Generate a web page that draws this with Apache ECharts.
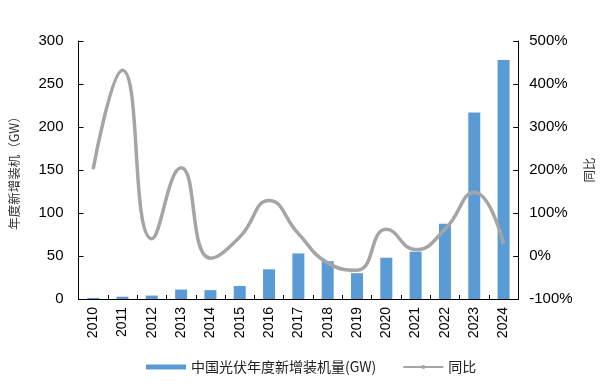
<!DOCTYPE html>
<html>
<head>
<meta charset="utf-8">
<script src="https://cdn.jsdelivr.net/npm/echarts@6/dist/echarts.min.js"></script>
<style>
html,body{margin:0;padding:0;background:#fff;}
#c{width:604px;height:388px;}
</style>
</head>
<body>
<div id="c"></div>
<script>
const categories = ['2010','2011','2012','2013','2014','2015','2016','2017','2018','2019','2020','2021','2022','2023','2024'];
const installed = [1.2, 2.7, 4.0, 11.0, 10.3, 15.1, 34.5, 53.0, 44.0, 30.0, 48.0, 55.0, 87.5, 217.0, 278.0];
const yoy = [202, 432, 40, 205, -5, 44, 129, 52, -16, -33, 62, 15, 62, 148, 28];
const leftTicks = [0, 50, 100, 150, 200, 250, 300];
const rightTicks = [-100, 0, 100, 200, 300, 400, 500];

const font = '"Liberation Sans", Arial, sans-serif';
const cjk = '"Noto Sans CJK SC", sans-serif';

const chart = echarts.init(document.getElementById('c'), null, {renderer: 'canvas'});
chart.setOption({
  animation: false,
  backgroundColor: '#ffffff',
  grid: {left: 76, right: 74, top: 41, bottom: 89, containLabel: false},
  legend: {
    bottom: 9,
    left: 141,
    itemGap: 26,
    itemWidth: 40,
    itemHeight: 5,
    textStyle: {fontFamily: cjk, fontSize: 14, color: '#222'},
    data: [
      {name: '中国光伏年度新增装机量(GW)', icon: 'rect'},
      {name: '同比'}
    ]
  },
  xAxis: {
    type: 'category',
    data: categories,
    axisLine: {lineStyle: {color: '#000', width: 1}},
    axisTick: {show: true, inside: true, length: 4, alignWithLabel: false, lineStyle: {color: '#000'}},
    axisLabel: {rotate: 90, margin: 8, fontFamily: font, fontSize: 14, color: '#000', interval: 0}
  },
  yAxis: [
    {
      type: 'value',
      min: leftTicks[0], max: leftTicks[leftTicks.length - 1], interval: 50,
      name: '年度新增装机（GW）',
      nameLocation: 'middle',
      nameRotate: 90,
      nameGap: 58,
      nameTextStyle: {fontFamily: cjk, fontSize: 12.5, color: '#333'},
      axisLine: {show: true, lineStyle: {color: '#000'}},
      axisTick: {show: true, inside: true, length: 5, lineStyle: {color: '#000'}},
      axisLabel: {margin: 15, fontFamily: font, fontSize: 15, color: '#000'},
      splitLine: {show: false}
    },
    {
      type: 'value',
      min: rightTicks[0], max: rightTicks[rightTicks.length - 1], interval: 100,
      position: 'right',
      name: '同比',
      nameLocation: 'middle',
      nameRotate: 90,
      nameGap: 58,
      nameTextStyle: {fontFamily: cjk, fontSize: 12.5, color: '#333'},
      axisLine: {show: true, lineStyle: {color: '#000'}},
      axisTick: {show: true, inside: true, length: 5, lineStyle: {color: '#000'}},
      axisLabel: {margin: 11, fontFamily: font, fontSize: 15, color: '#000', formatter: '{value}%'},
      splitLine: {show: false}
    }
  ],
  series: [
    {
      name: '中国光伏年度新增装机量(GW)',
      type: 'bar',
      data: installed,
      barWidth: 12,
      itemStyle: {color: '#5B9BD5'},
      yAxisIndex: 0
    },
    {
      name: '同比',
      type: 'line',
      data: yoy,
      yAxisIndex: 1,
      smooth: 0.5,
      symbol: 'none',
      lineStyle: {color: '#A5A5A5', width: 3.5},
      itemStyle: {color: '#A5A5A5'}
    }
  ]
});
</script>
</body>
</html>
